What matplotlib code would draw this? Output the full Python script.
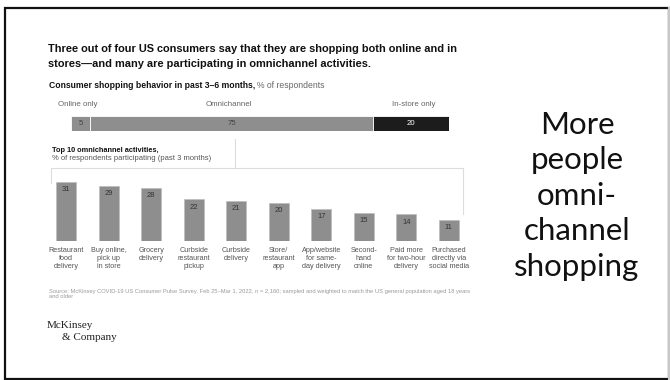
import matplotlib.pyplot as plt
from matplotlib.patches import Rectangle

# stacked bar: shopping behaviour
seg_labels = ['Online only', 'Omnichannel', 'In-store only']
seg_values = [5, 75, 20]
seg_colors = ['#8e8e8e', '#8e8e8e', '#1c1c1c']

# top 10 omnichannel activities
activities = ['Restaurant\nfood\ndelivery', 'Buy online,\npick up\nin store', 'Grocery\ndelivery',
              'Curbside\nrestaurant\npickup', 'Curbside\ndelivery', 'Store/\nrestaurant\napp',
              'App/website\nfor same-\nday delivery', 'Second-\nhand\nonline',
              'Paid more\nfor two-hour\ndelivery', 'Purchased\ndirectly via\nsocial media']
shares = [31, 29, 28, 22, 21, 20, 17, 15, 14, 11]

side_lines = ['More', 'people', 'omni-', 'channel', 'shopping']

W, H = 670, 380
fig = plt.figure(figsize=(6.7, 3.8), dpi=100)
fig.patch.set_facecolor('white')

def fax(x0, y0, x1, y1):
    # axes placed by pixel box (top-left origin)
    return fig.add_axes([x0 / W, 1 - y1 / H, (x1 - x0) / W, (y1 - y0) / H])

# overlay for text and frame
ov = fax(0, 0, W, H)
ov.set_xlim(0, W)
ov.set_ylim(H, 0)
ov.axis('off')

ov.add_patch(Rectangle((4.5, 7.5), 664, 371, fill=False, edgecolor='#111111', lw=1.6))
ov.plot([668.5, 668.5], [7.5, 379], color='#c8c8c8', lw=1.6)

sans = 'Liberation Sans'
ov.text(48, 49, 'Three out of four US consumers say that they are shopping both online and in',
        fontsize=7.95, fontweight='bold', family=sans, va='center', color='#111111')
ov.text(48, 64, 'stores\u2014and many are participating in omnichannel activities.',
        fontsize=7.95, fontweight='bold', family=sans, va='center', color='#111111')
ov.text(49, 86, 'Consumer shopping behavior in past 3\u20136 months,', fontsize=6.2,
        fontweight='bold', family=sans, va='center', color='#111111')
ov.text(257, 86, '% of respondents', fontsize=6.2, family=sans, va='center', color='#666666')

# stacked bar
ax1 = fax(71, 116, 449, 131)
left = 0
for lab, v, c in zip(seg_labels, seg_values, seg_colors):
    ax1.barh(0, v, left=left, color=c, height=1, edgecolor='white', lw=0.6)
    ax1.text(left + v / 2, 0, str(v), ha='center', va='center', fontsize=5.6,
             family=sans, color='white' if c == '#1c1c1c' else '#444444')
    left += v
ax1.set_xlim(0, 100)
ax1.set_ylim(-0.5, 0.5)
ax1.axis('off')

ov.text(58, 104, seg_labels[0], fontsize=5.7, family=sans, va='center', color='#666666')
ov.text(229, 104, seg_labels[1], fontsize=5.7, family=sans, va='center', ha='center', color='#666666')
ov.text(414, 104, seg_labels[2], fontsize=5.7, family=sans, va='center', ha='center', color='#666666')

# activities box
ov.text(52, 150, 'Top 10 omnichannel activities,', fontsize=5.3, fontweight='bold',
        family=sans, va='center', color='#111111')
ov.text(52, 158, '% of respondents participating (past 3 months)', fontsize=5.5,
        family=sans, va='center', color='#555555')
ov.plot([235, 235], [139, 168], color='#dddddd', lw=0.8)
ov.plot([51, 51, 463, 463], [183, 168, 168, 214], color='#dddddd', lw=0.8)

ax2 = fax(45, 166, 470, 241)
x = range(len(shares))
ax2.bar(x, shares, width=0.47, color='#8e8e8e', edgecolor='#bdbdbd', lw=0.5)
for i, v in zip(x, shares):
    ax2.text(i, v - 2.3, str(v), ha='center', va='top', fontsize=5.5,
             family=sans, color='#333333')
    ax2.text(i, -3.2, activities[i], ha='center', va='top', fontsize=5.2,
             family=sans, color='#555555', linespacing=1.2)
ax2.set_xlim(-0.5, 9.5)
ax2.set_ylim(0, 75 / 1.9)
ax2.axis('off')

ov.text(49, 294, 'Source: McKinsey COVID-19 US Consumer Pulse Survey, Feb 25\u2013Mar 1, 2022, n = 2,160; '
        'sampled and weighted to match the US general population aged 18 years\nand older',
        fontsize=4.15, family=sans, va='center', color='#9a9a9a', linespacing=1.25)

ov.text(47, 326, 'McKinsey', fontsize=8, family='Liberation Serif', va='center', color='#222222')
ov.text(62, 337, '& Company', fontsize=8, family='Liberation Serif', va='center', color='#222222')

for k, line in enumerate(side_lines):
    ov.text(577, 134 + k * 35.5, line, fontsize=22.5, family='Lato',
            ha='center', va='baseline', color='#111111')

fig.savefig('out.png', dpi=100, facecolor='white')
